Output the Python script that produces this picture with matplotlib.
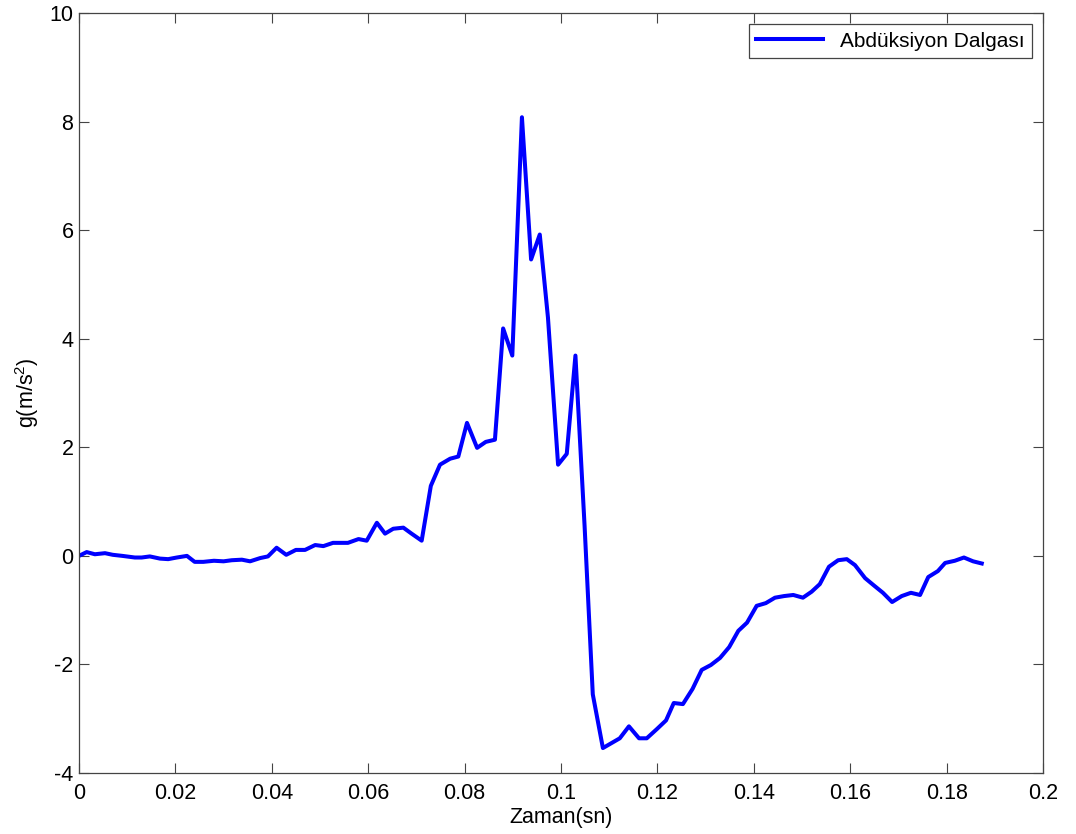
import matplotlib.pyplot as plt

plt.rcParams['font.family'] = ['Liberation Sans', 'DejaVu Sans']
plt.rcParams['mathtext.fontset'] = 'custom'
plt.rcParams['mathtext.rm'] = 'Liberation Sans'
plt.rcParams['axes.unicode_minus'] = False

# zaman (sn) ve ivme (m/s^2) ölçümleri
zaman = [0.0, 0.0016, 0.0033, 0.0054, 0.0070, 0.0090, 0.0116, 0.0130, 0.0147,
         0.0168, 0.0185, 0.0203, 0.0224, 0.0240, 0.0258, 0.0280, 0.0300, 0.0317,
         0.0338, 0.0355, 0.0376, 0.0392, 0.0410, 0.0430, 0.0450, 0.0469, 0.0490,
         0.0507, 0.0527, 0.0558, 0.0580, 0.0597, 0.0618, 0.0635, 0.0652, 0.0673,
         0.0690, 0.0711, 0.0730, 0.0749, 0.0770, 0.0787, 0.0805, 0.0826, 0.0844,
         0.0863, 0.0880, 0.0899, 0.0919, 0.0938, 0.0956, 0.0973, 0.0994, 0.1012,
         0.1030, 0.1049, 0.1066, 0.1087, 0.1122, 0.1141, 0.1162, 0.1178, 0.1199,
         0.1218, 0.1234, 0.1253, 0.1273, 0.1292, 0.1311, 0.1330, 0.1349, 0.1368,
         0.1386, 0.1406, 0.1425, 0.1444, 0.1463, 0.1482, 0.1502, 0.1520, 0.1537,
         0.1556, 0.1575, 0.1593, 0.1610, 0.1631, 0.1650, 0.1668, 0.1687, 0.1707,
         0.1726, 0.1745, 0.1762, 0.1782, 0.1797, 0.1817, 0.1836, 0.1855, 0.1873]
ivme = [0.0, 0.07, 0.03, 0.05, 0.02, 0.0, -0.03, -0.03, -0.01,
        -0.05, -0.06, -0.03, 0.0, -0.11, -0.11, -0.09, -0.10, -0.08,
        -0.07, -0.10, -0.04, -0.01, 0.15, 0.02, 0.11, 0.11, 0.20,
        0.18, 0.24, 0.24, 0.31, 0.28, 0.61, 0.41, 0.50, 0.52,
        0.41, 0.28, 1.29, 1.68, 1.79, 1.83, 2.45, 1.99, 2.10,
        2.14, 4.19, 3.69, 8.08, 5.46, 5.92, 4.39, 1.68, 1.88,
        3.69, 0.55, -2.55, -3.54, -3.36, -3.14, -3.36, -3.36, -3.19,
        -3.03, -2.71, -2.73, -2.45, -2.10, -2.01, -1.88, -1.68, -1.38,
        -1.23, -0.92, -0.87, -0.77, -0.74, -0.72, -0.77, -0.66, -0.52,
        -0.20, -0.08, -0.06, -0.17, -0.41, -0.55, -0.68, -0.85, -0.74,
        -0.68, -0.72, -0.39, -0.28, -0.13, -0.09, -0.03, -0.10, -0.14]

x_ticks = [0, 0.02, 0.04, 0.06, 0.08, 0.1, 0.12, 0.14, 0.16, 0.18, 0.2]
x_tick_labels = ['0', '0.02', '0.04', '0.06', '0.08', '0.1', '0.12', '0.14', '0.16', '0.18', '0.2']
y_ticks = [-4, -2, 0, 2, 4, 6, 8, 10]

fig = plt.figure(figsize=(10.76, 8.34), dpi=100)
ax = fig.add_axes([0.0734, 0.0731, 0.8959, 0.9113])

ax.plot(zaman, ivme, color='#0000ff', linewidth=2.9, label='Abdüksiyon Dalgası')

ax.set_xlim(0, 0.2)
ax.set_ylim(-4, 10)
ax.set_xticks(x_ticks)
ax.set_xticklabels(x_tick_labels)
ax.set_yticks(y_ticks)
ax.tick_params(direction='in', top=True, right=True, length=7, width=0.8,
               color='#444444', labelsize=15.5, pad=4)
ax.tick_params(axis='x', pad=7)
for s in ax.spines.values():
    s.set_color('#444444')
    s.set_linewidth(0.9)

ax.set_xlabel('Zaman(sn)', fontsize=15.5, labelpad=2)
ax.set_ylabel('g(m/s$^2$)', fontsize=15.5, labelpad=6)

leg = ax.legend(loc='upper right', fancybox=False, framealpha=1, edgecolor='#444444',
                fontsize=15, handlelength=3.2, handletextpad=0.8,
                borderaxespad=0.55, borderpad=0.35)
leg.get_frame().set_linewidth(0.9)

fig.savefig('out.png', dpi=100)
